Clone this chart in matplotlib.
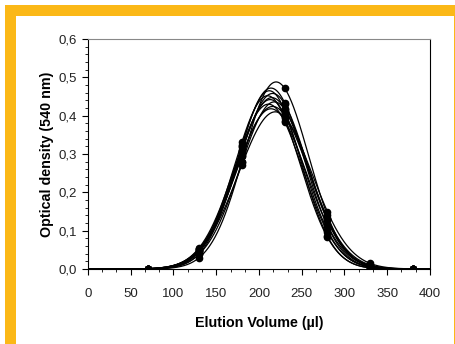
import numpy as np
import matplotlib
matplotlib.use("Agg")
import matplotlib.pyplot as plt
from matplotlib.ticker import MultipleLocator, FuncFormatter
from matplotlib.patches import Rectangle

plt.rcParams['font.family'] = ['Liberation Sans', 'DejaVu Sans']

# Measured elution volumes (µl)
volumes = [70, 130, 180, 230, 280, 330, 380]

od_runs = [
    [0.000, 0.030, 0.280, 0.471, 0.140, 0.007, 0.000],
    [0.000, 0.046, 0.323, 0.434, 0.113, 0.006, 0.000],
    [0.000, 0.040, 0.320, 0.413, 0.086, 0.003, 0.000],
    [0.000, 0.045, 0.305, 0.431, 0.127, 0.008, 0.000],
    [0.000, 0.049, 0.331, 0.394, 0.083, 0.003, 0.000],
    [0.000, 0.052, 0.311, 0.418, 0.127, 0.009, 0.000],
    [0.000, 0.046, 0.309, 0.402, 0.101, 0.005, 0.000],
    [0.000, 0.039, 0.278, 0.417, 0.131, 0.009, 0.000],
    [0.000, 0.055, 0.319, 0.384, 0.097, 0.005, 0.000],
    [0.000, 0.052, 0.294, 0.401, 0.133, 0.011, 0.000],
    [0.000, 0.051, 0.296, 0.387, 0.114, 0.008, 0.000],
    [0.000, 0.048, 0.272, 0.397, 0.150, 0.015, 0.000],
]

# Gaussian peak-fit parameters per run (amplitude, centre, width)
fit_amplitude = [0.488, 0.472, 0.465, 0.458, 0.452, 0.447, 0.442, 0.436, 0.430, 0.424, 0.418, 0.410]
fit_center = [220, 214, 212, 216, 210, 215, 213, 218, 211, 216, 214, 219]
fit_width = [38, 39, 37, 40, 38, 41, 39, 40, 40, 42, 41, 43]

x_ticks = [0, 50, 100, 150, 200, 250, 300, 350, 400]
y_ticks = [0.0, 0.1, 0.2, 0.3, 0.4, 0.5, 0.6]

fig = plt.figure(figsize=(4.56, 3.44), dpi=100)
fig.patch.set_facecolor('white')
orange = '#FBB817'
W, H = 456.0, 344.0
# frame decoration
fig.patches.append(Rectangle((5 / W, 1 - 16 / H), 1 - 5 / W, 11 / H, transform=fig.transFigure,
                             facecolor=orange, edgecolor='none', zorder=0))
fig.patches.append(Rectangle((5 / W, 0), 11 / W, 1 - 5 / H, transform=fig.transFigure,
                             facecolor=orange, edgecolor='none', zorder=0))
fig.patches.append(Rectangle((454 / W, 0), 1.2 / W, 1 - 5 / H, transform=fig.transFigure,
                             facecolor=orange, edgecolor='none', zorder=0))

ax = fig.add_axes([88 / W, 1 - 269 / H, (430 - 88) / W, (269 - 39) / H])

xs = np.linspace(0, 400, 801)
for a, c, s, od in zip(fit_amplitude, fit_center, fit_width, od_runs):
    ax.plot(xs, a * np.exp(-((xs - c) ** 2) / (2 * s ** 2)), color='black', lw=0.9, zorder=2)
    ax.plot(volumes, od, 'o', color='black', ms=4.5, zorder=3)

ax.set_xlim(0, 400)
ax.set_ylim(0, 0.6)
ax.set_xticks(x_ticks)
ax.set_yticks(y_ticks)
ax.xaxis.set_minor_locator(MultipleLocator(50 / 3))
ax.yaxis.set_minor_locator(MultipleLocator(0.02))
ax.yaxis.set_major_formatter(FuncFormatter(lambda v, p: f"{v:.1f}".replace('.', ',')))
ax.tick_params(which='major', direction='out', length=4, width=0.8, labelsize=9.5, colors='black', pad=4)
ax.tick_params(which='minor', direction='out', length=2, width=0.6)
ax.tick_params(axis='x', labelcolor='#222222', pad=10)
ax.tick_params(axis='y', labelcolor='#222222')
for sp in ax.spines.values():
    sp.set_linewidth(0.8)
ax.spines['top'].set_color('#888888')

ax.set_xlabel('Elution Volume (µl)', fontsize=10.3, fontweight='bold', labelpad=11)
ax.set_ylabel('Optical density (540 nm)', fontsize=10.3, fontweight='bold', labelpad=3)

fig.savefig('out.png', dpi=100)
